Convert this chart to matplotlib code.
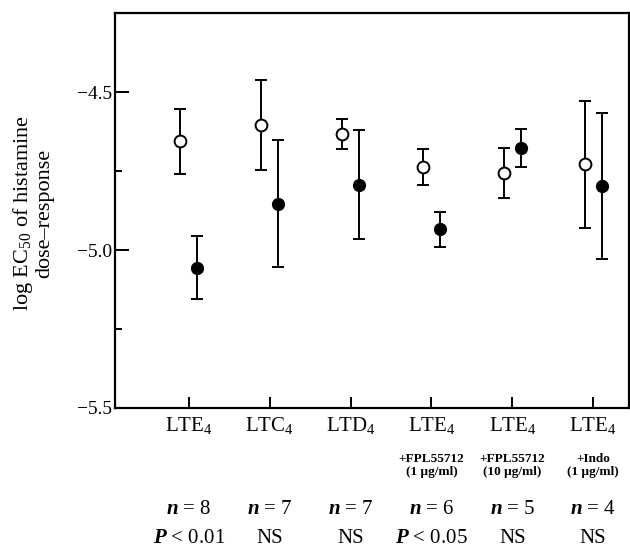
import numpy as np
import matplotlib
matplotlib.use("Agg")
import matplotlib.pyplot as plt
from matplotlib.ticker import MultipleLocator

plt.rcParams['font.family'] = ['Liberation Serif', 'DejaVu Serif']
plt.rcParams['mathtext.fontset'] = 'custom'
plt.rcParams['mathtext.rm'] = 'Liberation Serif'
plt.rcParams['mathtext.it'] = 'Liberation Serif:italic'
plt.rcParams['mathtext.bf'] = 'Liberation Serif:bold'
plt.rcParams['mathtext.bfit'] = 'Liberation Serif:italic:bold'

# data
categories = ['LTE$_\\mathregular{4}$', 'LTC$_\\mathregular{4}$', 'LTD$_\\mathregular{4}$',
              'LTE$_\\mathregular{4}$', 'LTE$_\\mathregular{4}$', 'LTE$_\\mathregular{4}$']
sublabels = ['', '', '', '+FPL55712\n(1 µg/ml)', '+FPL55712\n(10 µg/ml)', '+Indo\n(1 µg/ml)']
n_labels = ['8', '7', '7', '6', '5', '4']
p_labels = ['$\\mathbfit{P}$ < 0.01', 'NS', 'NS', '$\\mathbfit{P}$ < 0.05', 'NS', 'NS']

open_mean = [-4.655, -4.605, -4.632, -4.738, -4.757, -4.729]
open_err = [0.103, 0.143, 0.048, 0.057, 0.079, 0.200]
filled_mean = [-5.056, -4.853, -4.793, -4.935, -4.676, -4.797]
filled_err = [0.100, 0.200, 0.173, 0.056, 0.060, 0.230]

x = np.arange(1, len(categories) + 1)
off = 0.105

fig = plt.figure(figsize=(6.3, 5.49), dpi=100)
ax = fig.add_axes([0.1825, 0.257, 0.8155, 0.719])

ax.errorbar(x - off, open_mean, yerr=open_err, fmt='o', color='black', mfc='white',
            mec='black', mew=1.4, ms=8.5, elinewidth=1.4, capsize=4, capthick=1.4)
ax.errorbar(x + off, filled_mean, yerr=filled_err, fmt='o', color='black', mfc='black',
            ms=8.5, elinewidth=1.4, capsize=4, capthick=1.4)

ax.set_xlim(0.086, 6.44)
ax.set_ylim(-5.5, -4.25)
ax.set_xticks(x)
ax.set_xticklabels(categories, fontsize=15)
ax.set_yticks([-5.5, -5.0, -4.5])
ax.set_yticklabels(['\u22125.5', '\u22125.0', '\u22124.5'], fontsize=14)
ax.yaxis.set_minor_locator(MultipleLocator(0.25))
ax.tick_params(axis='y', which='major', direction='in', length=10, width=1.4, pad=2)
ax.tick_params(axis='y', which='minor', direction='in', length=5, width=1.4)
ax.tick_params(axis='x', which='major', direction='in', length=8, width=1.4, pad=5)
for s in ax.spines.values():
    s.set_linewidth(1.6)

fig.text(33 / 630, 1 - 213 / 549, 'log EC$_\\mathregular{50}$ of histamine\ndose\u2013response',
         rotation=90, ha='center', va='center', fontsize=16, linespacing=1.0)

trans = ax.get_xaxis_transform()
for xi, sub, n, p in zip(x, sublabels, n_labels, p_labels):
    if sub:
        ax.text(xi, -0.147, sub, transform=trans, ha='center', va='center',
                fontsize=9.5, fontweight='bold', linespacing=1.1)
    ax.text(xi, -0.258, '$\\mathbfit{n}$ = ' + n, transform=trans, ha='center',
            va='center', fontsize=15)
    ax.text(xi, -0.332, p, transform=trans, ha='center', va='center', fontsize=15)

fig.savefig('out.png', dpi=100)
